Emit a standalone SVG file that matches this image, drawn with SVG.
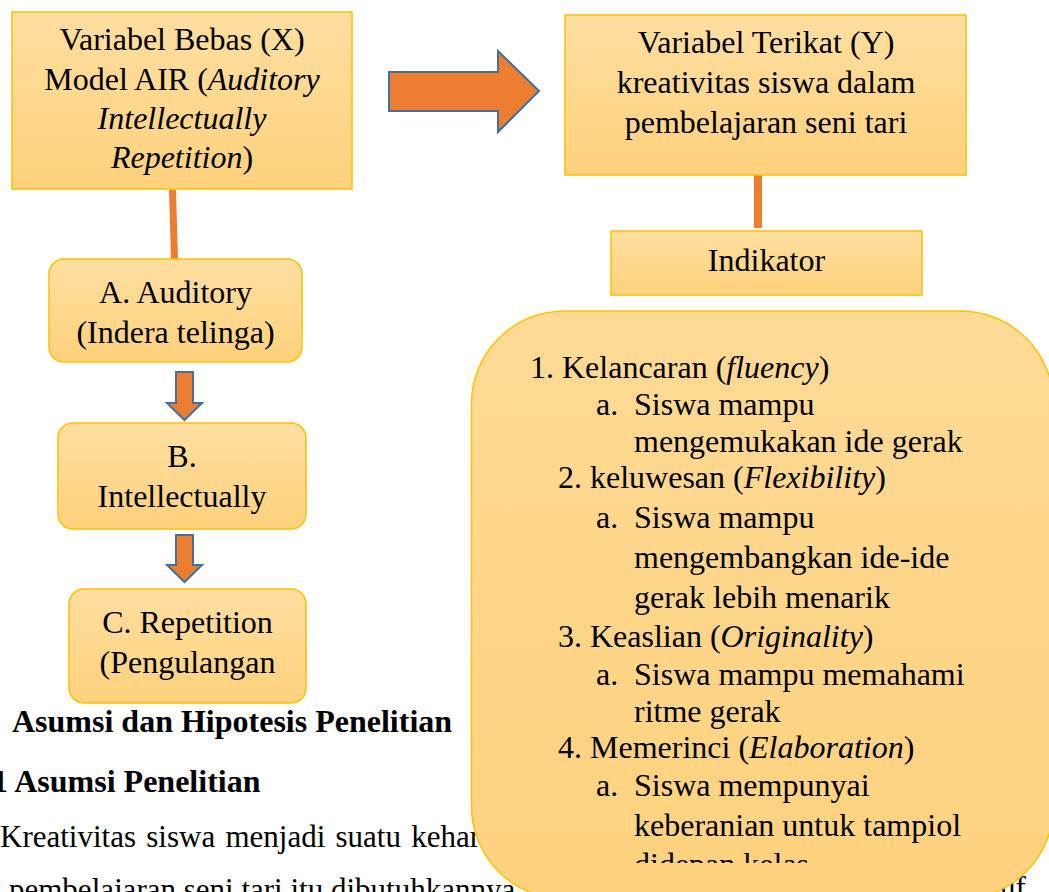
<svg xmlns="http://www.w3.org/2000/svg" width="1049" height="892" viewBox="0 0 1049 892">
<style>
  text { font-family: "Liberation Serif", "Times New Roman", serif; font-size: 32px; fill: #000; }
  .c { text-anchor: middle; }
  .i { font-style: italic; }
  .b { font-weight: bold; }
  .body { font-size: 31px; }
  .box { fill: url(#g); stroke: #FFC000; stroke-width: 1.5; }
  .big { fill: url(#g2); stroke: #FFC000; stroke-width: 1.5; }
  .conn { stroke: #ED7D31; stroke-width: 7; fill: none; }
  .arr { fill: #ED7D31; stroke: #41719C; stroke-width: 2; stroke-linejoin: miter; }
</style>
<defs>
  <linearGradient id="g" x1="0" y1="0" x2="0" y2="1">
    <stop offset="0" stop-color="#FEDEA1"/>
    <stop offset="1" stop-color="#FED27C"/>
  </linearGradient>
  <linearGradient id="g2" x1="0" y1="0" x2="0" y2="1">
    <stop offset="0" stop-color="#FEDA95"/>
    <stop offset="1" stop-color="#FED27E"/>
  </linearGradient>
  <clipPath id="bigclip"><rect x="471" y="311" width="582" height="552"/></clipPath>
</defs>
<rect width="1049" height="892" fill="#FFFFFF"/>

<g id="body-text">
  <text class="b" x="12" y="732">Asumsi dan Hipotesis Penelitian</text>
  <text class="b" x="-8" y="792">1 Asumsi Penelitian</text>
  <text class="body" x="0" y="847" word-spacing="2.5">Kreativitas siswa menjadi suatu kehar</text>
  <text class="body" x="9" y="900">pembelajaran seni tari itu dibutuhkannya</text>
  <text class="body" x="1000" y="898">uf</text>
</g>

<g id="connectors">
  <line class="conn" x1="172.5" y1="190" x2="174.5" y2="259"/>
  <line class="conn" x1="758" y1="172" x2="758" y2="228" style="stroke-width:8"/>
  <path class="arr" d="M389,72 L498,72 L498,51 L539,91 L498,132 L498,111 L389,111 Z"/>
  <path class="arr" d="M176,372 L193,372 L193,403 L202,403 L184.5,420 L167,403 L176,403 Z"/>
  <path class="arr" d="M176,535 L193,535 L193,565 L202,565 L184.5,582 L167,565 L176,565 Z"/>
</g>

<g id="node-x">
  <rect class="box" x="12" y="12" width="340" height="177"/>
  <text class="c" x="182" y="50">Variabel Bebas (X)</text>
  <text class="c" x="182" y="90">Model AIR (<tspan class="i">Auditory</tspan></text>
  <text class="c i" x="182" y="129">Intellectually</text>
  <text class="c" x="182" y="168"><tspan class="i">Repetition</tspan>)</text>
</g>

<g id="node-y">
  <rect class="box" x="565" y="15" width="401" height="160"/>
  <text class="c" x="766" y="53">Variabel Terikat (Y)</text>
  <text class="c" x="766" y="93">kreativitas siswa dalam</text>
  <text class="c" x="766" y="133">pembelajaran seni tari</text>
</g>

<g id="node-indikator">
  <rect class="box" x="611" y="231" width="311" height="64"/>
  <text class="c" x="766.5" y="271">Indikator</text>
</g>

<g id="node-a">
  <rect class="box" x="49" y="259" width="253" height="103" rx="15"/>
  <text class="c" x="175.5" y="303">A. Auditory</text>
  <text class="c" x="175.5" y="343">(Indera telinga)</text>
</g>

<g id="node-b">
  <rect class="box" x="58" y="423" width="248" height="106" rx="15"/>
  <text class="c" x="182" y="467">B.</text>
  <text class="c" x="182" y="507">Intellectually</text>
</g>

<g id="node-c">
  <rect class="box" x="69" y="589" width="237" height="114" rx="15"/>
  <text class="c" x="187.5" y="633">C. Repetition</text>
  <text class="c" x="187.5" y="673">(Pengulangan</text>
</g>

<g id="node-indicators">
  <rect class="big" x="471.5" y="311" width="582" height="588" rx="93"/>
  <g clip-path="url(#bigclip)">
    <text x="530" y="378">1. Kelancaran (<tspan class="i">fluency</tspan>)</text>
    <text x="596" y="415">a.</text><text x="634" y="415">Siswa mampu</text>
    <text x="634" y="452">mengemukakan ide gerak</text>
    <text x="558" y="488">2. keluwesan (<tspan class="i">Flexibility</tspan>)</text>
    <text x="596" y="528">a.</text><text x="634" y="528">Siswa mampu</text>
    <text x="634" y="568">mengembangkan ide-ide</text>
    <text x="634" y="608">gerak lebih menarik</text>
    <text x="558" y="647">3. Keaslian (<tspan class="i">Originality</tspan>)</text>
    <text x="596" y="685">a.</text><text x="634" y="685">Siswa mampu memahami</text>
    <text x="634" y="722">ritme gerak</text>
    <text x="558" y="758">4. Memerinci (<tspan class="i">Elaboration</tspan>)</text>
    <text x="596" y="796">a.</text><text x="634" y="796">Siswa mempunyai</text>
    <text x="634" y="836">keberanian untuk tampiol</text>
    <text x="634" y="875">didepan kelas</text>
  </g>
</g>
</svg>
